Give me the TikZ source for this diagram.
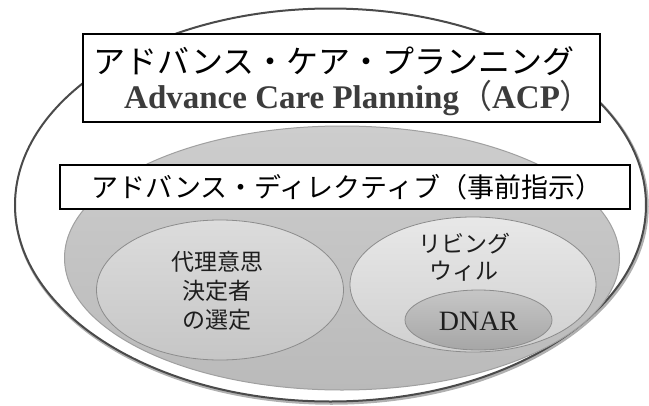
\documentclass[tikz,border=0pt]{standalone}
\usepackage{fontspec}
\setmainfont{Liberation Serif}
\newfontfamily\jpfont{Noto Sans CJK JP}
\usetikzlibrary{shapes.geometric}
\definecolor{outerline}{HTML}{4A4A4A}
\definecolor{shadowline}{HTML}{B0B0B0}
\definecolor{midtop}{HTML}{CDCDCD}
\definecolor{midbot}{HTML}{BABABA}
\definecolor{midline}{HTML}{A0A0A0}
\definecolor{lefttop}{HTML}{DCDCDC}
\definecolor{leftbot}{HTML}{C6C6C6}
\definecolor{righttop}{HTML}{E8E8E8}
\definecolor{rightbot}{HTML}{D0D0D0}
\definecolor{innerline}{HTML}{8C8C8C}
\definecolor{dnartop}{HTML}{C6C6C6}
\definecolor{dnarbot}{HTML}{A6A6A6}
\definecolor{acptext}{HTML}{3C3C3C}
\definecolor{jptext}{HTML}{1E1E1E}
\begin{document}
\begin{tikzpicture}[x=1pt,y=-1pt,
  oval/.style={ellipse, inner sep=0pt},
  labelbox/.style={draw=black, line width=2.5pt, fill=white, inner sep=0pt},
  txt/.style={inner sep=0pt, text=jptext}]
\useasboundingbox (0,0) rectangle (649,405);
% outer ellipse with soft shadow
\node[oval, minimum width=631, minimum height=393, draw=shadowline, line width=3.5pt] (outershadow) at (331.5,206.5) {};
\node[oval, minimum width=631, minimum height=393, draw=outerline, line width=2pt, fill=white] (outer) at (330.5,205) {};
% grey ellipse
\node[oval, minimum width=555, minimum height=264, draw=midline, line width=1pt, top color=midtop, bottom color=midbot] (mid) at (342,258) {};
% inner ellipses
\node[oval, minimum width=247, minimum height=140, draw=innerline, line width=0.8pt, top color=lefttop, bottom color=leftbot] (proxyoval) at (220,290) {};
\node[oval, minimum width=246, minimum height=135, draw=innerline, line width=0.8pt, top color=righttop, bottom color=rightbot] (willoval) at (473,284.5) {};
\node[oval, minimum width=147, minimum height=60, draw=innerline, line width=0.8pt, top color=dnartop, bottom color=dnarbot] (dnaroval) at (478.5,320) {};
% boxes
\node[labelbox, minimum width=517, minimum height=88] (acpbox) at (341.5,78) {};
\node[labelbox, minimum width=570, minimum height=44] (adbox) at (345,187) {};
% texts
\node[txt, text=black, font=\jpfont\fontsize{32}{32}\selectfont] (acpjp) at (334,61) {アドバンス・ケア・プランニング};
\node[txt, anchor=base west, text=acptext, font=\rmfamily\bfseries\fontsize{33}{33}\selectfont] (acpen) at (124,108) {Advance Care Planning{\mdseries\jpfont（}ACP{\mdseries\jpfont）}};
\node[txt, text=black, font=\jpfont\fontsize{27}{27}\selectfont] (adtext) at (347,187) {アドバンス・ディレクティブ（事前指示）};
\node[txt, align=center, font=\jpfont\fontsize{23}{29}\selectfont] (proxytext) at (217,291) {代理意思\\決定者\\の選定};
\node[txt, align=center, font=\jpfont\fontsize{23}{27}\selectfont] (willtext) at (464,257) {リビング\\ウィル};
\node[txt, font=\rmfamily\fontsize{28}{28}\selectfont] (dnartext) at (478.5,321) {DNAR};
\end{tikzpicture}
\end{document}
